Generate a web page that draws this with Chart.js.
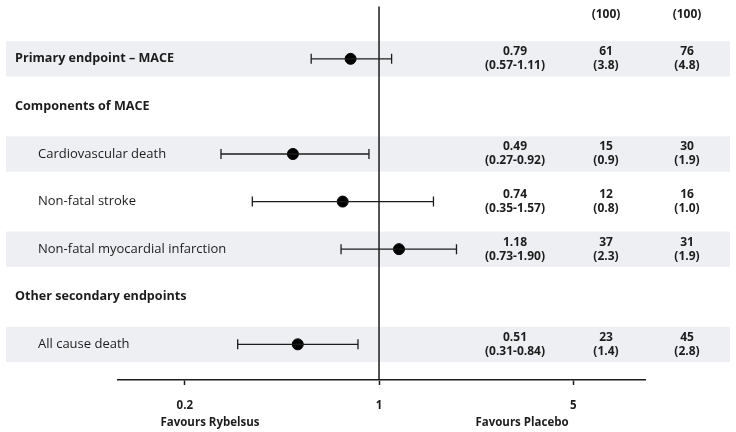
<!DOCTYPE html>
<html>
<head>
<meta charset="utf-8">
<script src="https://cdn.jsdelivr.net/npm/chart.js@4/dist/chart.umd.min.js"></script>
<style>
  html, body { margin: 0; padding: 0; background: #fff; }
  #wrap { width: 736px; height: 432px; position: relative; }
</style>
</head>
<body>
<div id="wrap"><canvas id="forest"></canvas></div>
<script>
// Data
const rowLabels = ['Primary endpoint \u2013 MACE', 'Components of MACE', 'Cardiovascular death',
    'Non-fatal stroke', 'Non-fatal myocardial infarction', 'Other secondary endpoints', 'All cause death'];
const rowIsHeading = [true, true, false, false, false, true, false];
const rowShaded = [true, false, true, false, true, false, true];
const hazardRatio = [0.79, null, 0.49, 0.74, 1.18, null, 0.51];
const ciLow = [0.57, null, 0.27, 0.35, 0.73, null, 0.31];
const ciHigh = [1.11, null, 0.92, 1.57, 1.90, null, 0.84];
const eventsRybelsus = [61, null, 15, 12, 37, null, 23];
const pctRybelsus = ['3.8', null, '0.9', '0.8', '2.3', null, '1.4'];
const eventsPlacebo = [76, null, 30, 16, 31, null, 45];
const pctPlacebo = ['4.8', null, '1.9', '1.0', '1.9', null, '2.8'];
const xTicks = [0.2, 1, 5];
const headerPct = ['(100)', '(100)'];

const font = '"Open Sans", "DejaVu Sans", sans-serif';
const ink = '#1c1c1c';

// one dataset per confidence interval + the point estimates
const datasets = [];
hazardRatio.forEach((hr, i) => {
    if (hr == null) return;
    datasets.push({
        data: [{ x: ciLow[i], y: i + 1 }, { x: ciHigh[i], y: i + 1 }],
        showLine: true,
        borderColor: ink,
        borderWidth: 1.3,
        pointStyle: 'line',
        rotation: 90,
        pointRadius: 5,
        pointBorderWidth: 1.3,
        pointBorderColor: ink
    });
});
datasets.push({
    data: hazardRatio.map((hr, i) => hr == null ? null : { x: hr, y: i + 1 }).filter(p => p),
    pointRadius: 5.5,
    backgroundColor: '#000',
    borderColor: '#000',
    showLine: false
});

// bands, reference line and all the text columns
const forestText = {
    id: 'forestText',
    beforeDatasetsDraw(chart) {
        const ctx = chart.ctx;
        const y = chart.scales.y;
        const x = chart.scales.x;
        ctx.save();
        ctx.fillStyle = '#edeff2';
        rowShaded.forEach((s, i) => {
            if (!s) return;
            const top = y.getPixelForValue(i + 1 - 0.37);
            const bot = y.getPixelForValue(i + 1 + 0.37);
            ctx.fillRect(6, top, 724, bot - top);
        });
        // line of no effect
        const x1 = x.getPixelForValue(1);
        ctx.strokeStyle = ink;
        ctx.lineWidth = 1.5;
        ctx.beginPath();
        ctx.moveTo(x1, chart.chartArea.top);
        ctx.lineTo(x1, chart.chartArea.bottom);
        ctx.stroke();
        ctx.restore();
    },
    afterDraw(chart) {
        const ctx = chart.ctx;
        const y = chart.scales.y;
        ctx.save();
        ctx.fillStyle = ink;
        ctx.textBaseline = 'middle';
        rowLabels.forEach((lab, i) => {
            const py = y.getPixelForValue(i + 1);
            ctx.textAlign = 'left';
            if (rowIsHeading[i]) {
                ctx.font = 'bold 12.6px ' + font;
                ctx.fillText(lab, 15, py);
            } else {
                ctx.font = '13px ' + font;
                ctx.fillText(lab, 38, py);
            }
            if (hazardRatio[i] == null) return;
            ctx.textAlign = 'center';
            ctx.font = 'bold 12px ' + font;
            ctx.fillText(hazardRatio[i].toFixed(2), 515, py - 7);
            ctx.fillText('(' + ciLow[i].toFixed(2) + '-' + ciHigh[i].toFixed(2) + ')', 515, py + 7);
            ctx.fillText(String(eventsRybelsus[i]), 606, py - 7);
            ctx.fillText('(' + pctRybelsus[i] + ')', 606, py + 7);
            ctx.fillText(String(eventsPlacebo[i]), 687, py - 7);
            ctx.fillText('(' + pctPlacebo[i] + ')', 687, py + 7);
        });
        ctx.textAlign = 'center';
        ctx.font = 'bold 12px ' + font;
        ctx.fillText(headerPct[0], 606, 15);
        ctx.fillText(headerPct[1], 687, 15);
        ctx.font = 'bold 11.5px ' + font;
        ctx.fillText('Favours Rybelsus', 210, 423);
        ctx.fillText('Favours Placebo', 522, 423);
        ctx.restore();
    }
};

const ctx = document.getElementById('forest').getContext('2d');
new Chart(ctx, {
    type: 'scatter',
    data: { datasets: datasets },
    options: {
        responsive: true,
        maintainAspectRatio: false,
        animation: false,
        layout: { padding: { left: 118, right: 91, top: 0, bottom: 0 } },
        plugins: { legend: { display: false }, tooltip: { enabled: false } },
        scales: {
            x: {
                type: 'logarithmic',
                min: 0.115,
                max: 9.06,
                afterBuildTicks: (scale) => { scale.ticks = xTicks.map(v => ({ value: v })); },
                afterFit: (scale) => { scale.height = 52; },
                border: { display: true, color: ink, width: 1.5 },
                grid: { drawOnChartArea: false, drawTicks: true, tickLength: 5, tickColor: ink, tickWidth: 1.5 },
                ticks: {
                    autoSkip: false,
                    maxRotation: 0,
                    padding: 14,
                    color: ink,
                    font: { family: font, size: 11.5, weight: 'bold' },
                    callback: (v) => String(v)
                }
            },
            y: {
                display: false,
                reverse: true,
                min: -0.1,
                max: 7.75
            }
        }
    },
    plugins: [forestText]
});
</script>
</body>
</html>
